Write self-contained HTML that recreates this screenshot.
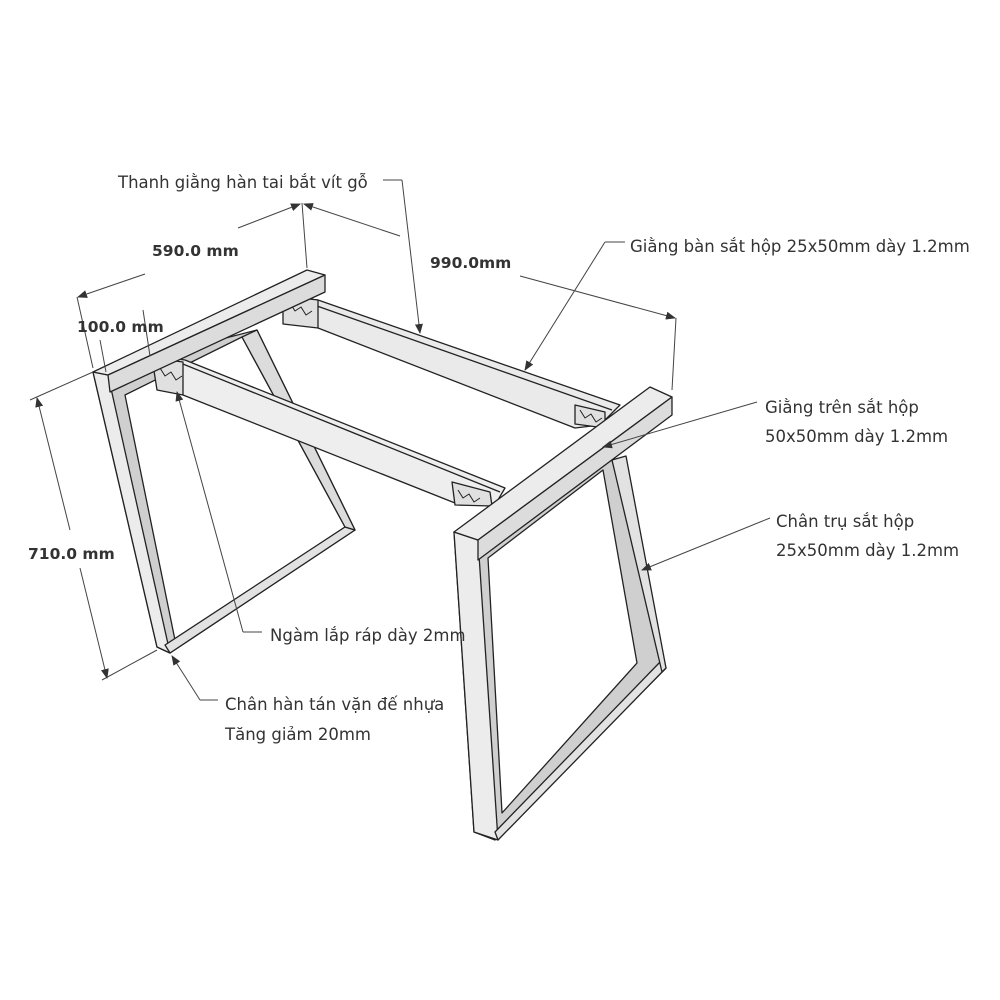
<!DOCTYPE html>
<html><head><meta charset="utf-8"><style>
html,body{margin:0;padding:0;background:#fff;width:1000px;height:1000px;overflow:hidden}
svg{display:block}
text{font-family:"DejaVu Sans","Liberation Sans",sans-serif;fill:#333}
.b{font-weight:bold;font-size:15.5px}
.t{font-size:16.5px}
</style></head><body>
<svg width="1000" height="1000" viewBox="0 0 1000 1000" xmlns="http://www.w3.org/2000/svg">
<defs><marker id="a" markerWidth="10" markerHeight="8" refX="9" refY="4" orient="auto"><path d="M0,0 L10,4 L0,8z" fill="#333"/></marker></defs>
<g stroke="#222" stroke-width="1.3" stroke-linejoin="round">
<path d="M93,372 L257,330 L355,530 L170,653 L157,647 Z M125,395 L175,640 L345,527 L242,337 Z" fill="#cfcfcf" fill-rule="evenodd"/>
<path d="M93,372 L108,375 L170,653 L157,647 Z" fill="#ececec"/>
<path d="M170,653 L355,530 L345,527 L165,645 Z" fill="#e2e2e2"/>
<path d="M242,337 L257,330 L355,530 L345,527 Z" fill="#dcdcdc"/>
<path d="M283,296 L318,300 L620,405 L600,425 L575,428 L318,328 Z" fill="#eaeaea"/>
<path d="M300,300 L612,410" fill="none"/>
<path d="M283,296 L318,300 L318,328 L283,324 Z" fill="#e0e0e0"/>
<path d="M290,303 l5,8 l6,-4 l5,8 l6,-4" fill="none" stroke-width="1"/>
<path d="M575,405 L605,412 L605,428 L575,424 Z" fill="#e0e0e0"/>
<path d="M580,410 l5,8 l6,-4 l5,8 l6,-4" fill="none" stroke-width="1"/>
<path d="M152,356 L185,360 L505,488 L495,505 L460,505 L183,395 Z" fill="#eeeeee"/>
<path d="M168,358 L500,492" fill="none"/>
<path d="M152,358 L183,362 L183,395 L157,390 Z" fill="#e0e0e0"/>
<path d="M160,368 l5,8 l6,-4 l5,8 l6,-4" fill="none" stroke-width="1"/>
<path d="M452,482 L490,492 L492,506 L455,505 Z" fill="#e0e0e0"/>
<path d="M458,490 l5,8 l6,-4 l5,8 l6,-4" fill="none" stroke-width="1"/>
<path d="M93,372 L307,270 L325,275 L108,375 Z" fill="#ececec"/>
<path d="M108,375 L325,275 L325,292 L110,392 Z" fill="#dcdcdc"/>
<path d="M454,532 L612,460 L666,668 L495,840 L474,832 Z M488,558 L502,813 L637,663 L603,470 Z" fill="#cfcfcf" fill-rule="evenodd"/>
<path d="M454,532 L478,540 L498,840 L474,832 Z" fill="#ececec"/>
<path d="M498,840 L666,668 L662,660 L495,832 Z" fill="#e2e2e2"/>
<path d="M612,460 L626,456 L666,668 L662,672 Z" fill="#e2e2e2"/>
<path d="M454,532 L650,387 L672,397 L478,540 Z" fill="#ececec"/>
<path d="M478,540 L672,397 L672,415 L478,560 Z" fill="#dcdcdc"/>
</g>
<g stroke="#444" stroke-width="1" fill="none">
<line x1="302" y1="203" x2="307" y2="268"/>
<line x1="676" y1="318" x2="672" y2="390"/>
<line x1="77" y1="297" x2="93" y2="368"/>
<line x1="145" y1="274" x2="78" y2="297" marker-end="url(#a)"/>
<line x1="238" y1="228" x2="300" y2="204" marker-end="url(#a)"/>
<line x1="400" y1="236" x2="304" y2="204" marker-end="url(#a)"/>
<line x1="520" y1="276" x2="675" y2="318" marker-end="url(#a)"/>
<line x1="383" y1="180" x2="402" y2="180"/><line x1="402" y1="180" x2="420" y2="333" marker-end="url(#a)"/>
<line x1="625" y1="242" x2="605" y2="242"/><line x1="605" y1="242" x2="525" y2="370" marker-end="url(#a)"/>
<line x1="757" y1="402" x2="603" y2="447" marker-end="url(#a)"/>
<line x1="770" y1="518" x2="642" y2="570" marker-end="url(#a)"/>
<line x1="262" y1="632" x2="243" y2="632"/><line x1="243" y1="632" x2="177" y2="392" marker-end="url(#a)"/>
<line x1="218" y1="700" x2="200" y2="700"/><line x1="200" y1="700" x2="172" y2="656" marker-end="url(#a)"/>
<line x1="30" y1="400" x2="93" y2="372"/>
<line x1="102" y1="680" x2="157" y2="650"/>
<line x1="70" y1="530" x2="37" y2="398" marker-end="url(#a)"/>
<line x1="80" y1="568" x2="107" y2="678" marker-end="url(#a)"/>
<line x1="100" y1="340" x2="106" y2="372"/>
<line x1="143" y1="310" x2="150" y2="356"/>
</g>
<text class="t" x="118" y="188">Thanh giằng hàn tai bắt vít gỗ</text>
<text class="b" x="152" y="256">590.0 mm</text>
<text class="b" x="430" y="268">990.0mm</text>
<text class="b" x="77" y="332">100.0 mm</text>
<text class="b" x="28" y="559">710.0 mm</text>
<text class="t" x="630" y="252">Giằng bàn sắt hộp 25x50mm dày 1.2mm</text>
<text class="t" x="765" y="413">Giằng trên sắt hộp</text>
<text class="t" x="765" y="442">50x50mm dày 1.2mm</text>
<text class="t" x="776" y="527">Chân trụ sắt hộp</text>
<text class="t" x="776" y="556">25x50mm dày 1.2mm</text>
<text class="t" x="270" y="641">Ngàm lắp ráp dày 2mm</text>
<text class="t" x="225" y="710">Chân hàn tán vặn đế nhựa</text>
<text class="t" x="225" y="740">Tăng giảm 20mm</text>
</svg>
</body></html>
